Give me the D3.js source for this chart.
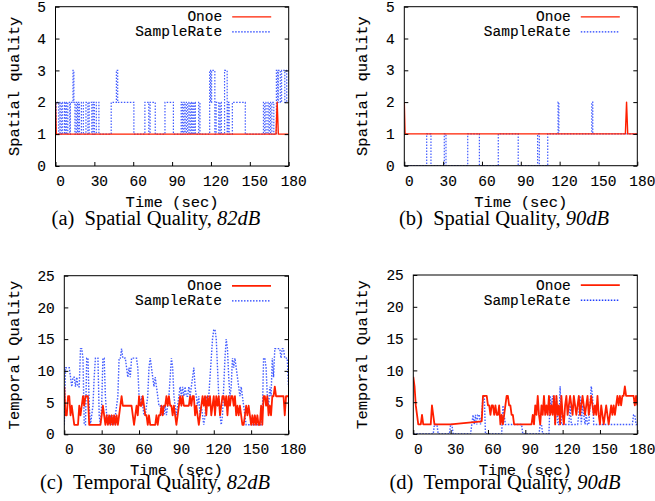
<!DOCTYPE html>
<html>
<head>
<meta charset="utf-8">
<script src="https://cdn.jsdelivr.net/npm/d3@7"></script>
<style>
body { margin: 0; background: #fff; }
svg { display: block; }
</style>
</head>
<body>
<div id="chart"></div>
<script>
// ---- data ----
var xTicks = [0, 30, 60, 90, 120, 150, 180];
var spatialTicks = [0, 1, 2, 3, 4, 5];
var temporalTicks = [0, 5, 10, 15, 20, 25];
var seriesNames = ["Onoe", "SampleRate"];

// (a) spatial, 82dB
var onoeA_t = [0, 0.6, 170.2, 171.1, 172, 180];
var onoeA_v = [2, 1, 1, 2, 1, 1];
// SampleRate as change points (value holds until next time)
var srA_t = [0, 0.5, 2.5, 3.5, 4.5, 5.5, 7, 7.5, 8.5, 9.5, 11, 11.5, 13.5, 14.2, 15, 16, 17, 17.5, 18.5, 20,
             21.5, 23.5, 25, 26, 28, 29, 30, 31.5, 33.5, 43, 47, 48, 60.5, 69, 72, 73, 77, 84.5, 91, 97,
             98, 99, 100, 101, 102, 103, 104, 105, 106, 107, 108, 110.5, 111.5, 119, 119.7, 120.5, 123, 124, 126, 127,
             128, 130.5, 132.5, 133, 134, 136.5, 146.5, 160.5, 161.5, 162.5, 164, 165, 166, 167, 168.5, 170.5, 171.5, 172, 173.5, 174.5,
             177, 178.5, 180];
var srA_v = [1, 2, 1, 2, 1, 2, 1, 2, 1, 2, 1, 2, 3, 2, 1, 2, 1, 2, 1, 2,
             1, 2, 1, 2, 1, 2, 1, 2, 1, 2, 3, 2, 1, 2, 1, 2, 1, 2, 1, 2,
             1, 2, 1, 2, 1, 2, 1, 2, 1, 2, 1, 2, 1, 3, 2, 3, 1, 2, 1, 2,
             1, 3, 1, 2, 1, 2, 1, 2, 1, 2, 1, 2, 1, 2, 1, 3, 2, 3, 2, 3,
             2, 3, 3];

// (b) spatial, 90dB
var onoeB_t = [0, 0.6, 170.8, 171.7, 172.6, 180];
var onoeB_v = [2, 1, 1, 2, 1, 1];
var srB_t = [0, 17.3, 20.6, 30.9, 32.2, 49, 58, 72.6, 88, 103, 104.3, 110.8, 118.8, 119.4, 144.8, 145.6, 180];
var srB_v = [0, 1, 0, 1, 0, 1, 0, 1, 0, 1, 0, 1, 2, 1, 2, 1, 1];

// (c) temporal, 82dB, one sample per second 0..180
var onoeC = [7.5, 3, 3, 6, 6, 3, 4.5, 3, 1.5, 1.5,
             1.5, 1.5, 4.5, 3, 4.5, 6, 4.5, 6, 6, 6,
             1.5, 1.5, 1.5, 1.5, 1.5, 1.5, 1.5, 1.5, 1.5, 1.5,
             3, 4.5, 3, 1.5, 3, 1.5, 3, 1.5, 3, 1.5,
             3, 1.5, 3, 1.5, 3, 4.5, 6, 4.5, 4.5, 4.5,
             4.5, 4.5, 4.5, 4.5, 4.5, 3, 1.5, 3, 4.5, 3,
             6, 4.5, 4.5, 6, 4.5, 3, 3, 1.5, 3, 1.5,
             1.5, 1.5, 1.5, 1.5, 3, 1.5, 3, 3, 4.5, 3,
             4.5, 4.5, 6, 4.5, 6, 4.5, 4.5, 3, 4.5, 3,
             1.5, 3, 4.5, 6, 4.5, 6, 4.5, 4.5, 4.5, 4.5,
             4.5, 6, 4.5, 6, 6, 3, 4.5, 3, 1.5, 3,
             4.5, 6, 4.5, 6, 3, 6, 4.5, 6, 3, 4.5,
             6, 3, 6, 4.5, 6, 3, 4.5, 6, 6, 4.5,
             6, 3, 6, 4.5, 6, 6, 4.5, 6, 3, 4.5,
             3, 4.5, 3, 1.5, 1.5, 3, 4.5, 3, 4.5, 3,
             1.5, 3, 1.5, 3, 1.5, 3, 1.5, 1.5, 4.5, 1.5,
             6, 6, 4.5, 6, 3, 4.5, 3, 6, 6, 7.5,
             6, 6, 6, 6, 6, 6, 6, 3, 6, 6,
             6];
var srC = [1.5, 10.5, 10.5, 10.5, 10.5, 9, 7.5, 9, 9, 7.5,
           9, 7.5, 7.5, 13.5, 13.5, 12, 1.5, 1.5, 12, 12,
           4.5, 1.5, 3, 4.5, 9, 12, 12, 12, 3, 1.5,
           4.5, 12, 12, 6, 3, 3, 1.5, 3, 1.5, 3,
           1.5, 3, 4.5, 6, 12, 12, 13.5, 12, 12, 12,
           10.5, 9, 10.5, 9, 12, 12, 12, 12, 12, 10.5,
           6, 4.5, 6, 4.5, 3, 3, 4.5, 6, 10.5, 12,
           10.5, 9, 7.5, 9, 7.5, 6, 4.5, 4.5, 3, 4.5,
           3, 4.5, 3, 4.5, 6, 9, 12, 10.5, 6, 4.5,
           3, 4.5, 6, 7.5, 6, 7.5, 6, 7.5, 6, 6,
           7.5, 6, 7.5, 9, 10.5, 7.5, 6, 4.5, 6, 3,
           4.5, 3, 1.5, 3, 6, 4.5, 6, 9, 12, 15,
           16.5, 16.5, 15, 10.5, 6, 3, 1.5, 3, 7.5, 12,
           15, 13.5, 9, 6, 7.5, 12, 10.5, 12, 10.5, 9,
           7.5, 6, 7.5, 6, 4.5, 3, 1.5, 1.5, 1.5, 1.5,
           1.5, 1.5, 1.5, 1.5, 1.5, 1.5, 1.5, 1.5, 1.5, 3,
           12, 12, 10.5, 6, 4.5, 7.5, 6, 12, 9, 13.5,
           13.5, 13.5, 13.5, 13.5, 12, 13.5, 13.5, 12, 12, 12,
           7.5];

// (d) temporal, 90dB; Onoe has no samples between 30 and 55 s
var onoeD_t = d3.range(0, 31).concat(d3.range(55, 181));
var onoeD_v = [9, 7.5, 4.5, 3, 1.5, 1.5, 1.5, 3, 1.5, 1.5,
               1.5, 1.5, 1.5, 1.5, 1.5, 4.5, 3, 1.5, 1.5, 1.5,
               1.5, 1.5, 1.5, 1.5, 1.5, 1.5, 1.5, 1.5, 1.5, 1.5,
               1.5,
               2, 6, 6, 6, 6,
               4.5, 4.5, 3, 4.5, 4.5, 3, 4.5, 3, 3, 4.5,
               1.5, 3, 1.5, 3, 4.5, 6, 6, 4.5, 4.5, 3,
               3, 1.5, 1.5, 1.5, 1.5, 1.5, 1.5, 1.5, 1.5, 1.5,
               1.5, 1.5, 1.5, 1.5, 1.5, 1.5, 3, 1.5, 4.5, 3,
               6, 3, 1.5, 4.5, 3, 6, 3, 4.5, 3, 6,
               3, 4.5, 3, 6, 1.5, 6, 3, 4.5, 1.5, 6,
               3, 1.5, 4.5, 6, 3, 4.5, 6, 4.5, 3, 6,
               4.5, 3, 4.5, 6, 3, 4.5, 6, 4.5, 3, 4.5,
               6, 3, 4.5, 6, 4.5, 3, 4.5, 3, 6, 3,
               1.5, 4.5, 3, 1.5, 3, 4.5, 3, 1.5, 3, 4.5,
               3, 4.5, 3, 4.5, 6, 4.5, 6, 4.5, 6, 6,
               7.5, 6, 6, 6, 6, 6, 6, 6, 4.5, 6,
               4.5];
var srD = [0, 0, 0, 0, 0, 0, 0, 0, 0, 0,
           0, 0, 0, 0, 0, 0, 0, 1.5, 1.5, 1.5,
           0, 0, 0, 0, 0, 0, 0, 0, 0, 0,
           1.5, 1.5, 0, 0, 0, 0, 0, 0, 0, 0,
           0, 0, 0, 0, 0, 0, 0, 1.5, 3, 1.5,
           3, 1.5, 3, 3, 1.5, 3, 6, 6, 0, 0,
           0, 0, 0, 0, 0, 0, 0, 0, 0, 0,
           0, 0, 4.5, 3, 1.5, 1.5, 1.5, 1.5, 1.5, 1.5,
           1.5, 1.5, 1.5, 1.5, 1.5, 1.5, 1.5, 1.5, 0, 0,
           0, 0, 0, 0, 0, 0, 0, 0, 0, 0,
           0, 0, 1.5, 1.5, 0, 0, 0, 0, 0, 0,
           6, 4.5, 6, 4.5, 1.5, 6, 1.5, 1.5, 7.5, 1.5,
           1.5, 1.5, 1.5, 1.5, 1.5, 1.5, 4.5, 1.5, 1.5, 1.5,
           1.5, 1.5, 1.5, 3, 6, 1.5, 4.5, 3, 1.5, 3,
           1.5, 1.5, 4.5, 7.5, 6, 1.5, 1.5, 1.5, 1.5, 1.5,
           1.5, 1.5, 1.5, 1.5, 1.5, 1.5, 1.5, 1.5, 1.5, 1.5,
           1.5, 1.5, 1.5, 1.5, 1.5, 1.5, 1.5, 1.5, 1.5, 1.5,
           1.5, 1.5, 1.5, 1.5, 1.5, 1.5, 1.5, 3, 3, 1.5,
           1.5];

var secs = d3.range(0, 181);

var RED = "#ff1f00";
var BLUE = "#1f3dff";
var MONO = "'Liberation Mono', 'Courier New', monospace";
var SERIF = "'Liberation Serif', 'Times New Roman', serif";

var svg = d3.select("#chart")
    .append("svg")
    .attr("width", 655)
    .attr("height", 501)
    .style("background-color", "#fff");

var panels = [
    { id: "a", left: 55.5, right: 288.7, top: 6.7, bottom: 166, ymax: 5, yTicks: spatialTicks,
      ylabel: "Spatial quality", ylabelX: -37, letter: "(a)", db: "82dB", capX: 156, capY: 224.5,
      red: d3.zip(onoeA_t, onoeA_v), blue: d3.zip(srA_t, srA_v), step: true, redW: 1.4, blueW: 1.2 },
    { id: "b", left: 404.3, right: 637.3, top: 6.7, bottom: 165.7, ymax: 5, yTicks: spatialTicks,
      ylabel: "Spatial quality", ylabelX: -37, letter: "(b)", db: "90dB", capX: 504, capY: 224.5,
      red: d3.zip(onoeB_t, onoeB_v), blue: d3.zip(srB_t, srB_v), step: true, redW: 1.4, blueW: 1.2 },
    { id: "c", left: 64.3, right: 288.5, top: 275.7, bottom: 434.3, ymax: 25, yTicks: temporalTicks,
      ylabel: "Temporal Quality", ylabelX: -45, letter: "(c)", db: "82dB", capX: 155, capY: 489,
      red: d3.zip(secs, onoeC), blue: d3.zip(secs, srC), step: false, redW: 1.8, blueW: 1.4 },
    { id: "d", left: 413.3, right: 637.3, top: 275, bottom: 434, ymax: 25, yTicks: temporalTicks,
      ylabel: "Temporal Quality", ylabelX: -46.5, letter: "(d)", db: "90dB", capX: 505, capY: 489,
      red: d3.zip(onoeD_t, onoeD_v), blue: d3.zip(secs, srD), step: false, redW: 1.8, blueW: 1.4 }
];

panels.forEach(drawPanel);

function monoText(sel, size) {
    // a hair of outline so the thin mono face reads like the postscript Courier
    return sel.style("font-family", MONO)
        .style("font-size", size)
        .attr("fill", "#000")
        .attr("stroke", "#000")
        .attr("stroke-width", 0.12);
}

function drawPanel(p) {
    var x = d3.scaleLinear().domain([0, 180]).range([p.left, p.right]);
    var y = d3.scaleLinear().domain([0, p.ymax]).range([p.bottom, p.top]);
    var g = svg.append("g");

    g.append("clipPath")
        .attr("id", "clip-" + p.id)
        .append("rect")
        .attr("x", p.left).attr("y", p.top)
        .attr("width", p.right - p.left).attr("height", p.bottom - p.top);

    var blueLine = d3.line()
        .x(d => x(d[0])).y(d => y(d[1]))
        .curve(p.step ? d3.curveStepAfter : d3.curveLinear);
    var redLine = d3.line()
        .x(d => x(d[0])).y(d => y(d[1]));

    var plot = g.append("g").attr("clip-path", "url(#clip-" + p.id + ")");
    plot.append("path")
        .attr("d", blueLine(p.blue))
        .attr("fill", "none")
        .attr("stroke", BLUE)
        .attr("stroke-width", p.blueW)
        .attr("stroke-dasharray", "1.5,1.5")
        .attr("opacity", 0.85);
    plot.append("path")
        .attr("d", redLine(p.red))
        .attr("fill", "none")
        .attr("stroke", RED)
        .attr("stroke-width", p.redW)
        .attr("stroke-linejoin", "round");

    // axes (gnuplot style: inward ticks, mirrored on the right)
    var xAxis = g.append("g")
        .attr("transform", "translate(0," + p.bottom + ")")
        .call(d3.axisBottom(x).tickValues(xTicks).tickSize(-4).tickPadding(9.8).tickFormat(d3.format("d")));
    xAxis.selectAll("text").attr("dx", 4.5);

    g.append("g")
        .attr("transform", "translate(" + p.left + ",0)")
        .call(d3.axisLeft(y).tickValues(p.yTicks).tickSize(-4).tickPadding(9.5).tickFormat(d3.format("d")));

    g.append("g")
        .attr("transform", "translate(" + p.right + ",0)")
        .call(d3.axisRight(y).tickValues(p.yTicks).tickSize(-4).tickFormat(""));

    g.selectAll(".domain").remove();
    g.selectAll(".tick line").attr("stroke", "#000");
    monoText(g.selectAll(".tick text"), "14.5px");

    g.append("rect")
        .attr("x", p.left).attr("y", p.top)
        .attr("width", p.right - p.left).attr("height", p.bottom - p.top)
        .attr("fill", "none")
        .attr("stroke", "#000")
        .attr("stroke-width", 1);

    // legend
    var legendStyles = [
        { color: RED, w: p.redW, dash: null },
        { color: BLUE, w: p.blueW, dash: "1.5,1.5" }
    ];
    seriesNames.forEach(function (name, i) {
        var by = p.top + 14.7 + i * 15;
        monoText(g.append("text"), "14.5px")
            .attr("x", p.right - 66.5)
            .attr("y", by)
            .attr("text-anchor", "end")
            .text(name);
        g.append("line")
            .attr("x1", p.right - 56.5).attr("x2", p.right - 17.5)
            .attr("y1", by - 4.5).attr("y2", by - 4.5)
            .attr("stroke", legendStyles[i].color)
            .attr("stroke-width", legendStyles[i].w)
            .attr("stroke-dasharray", legendStyles[i].dash);
    });

    // axis titles
    monoText(g.append("text"), "15.5px")
        .attr("x", (p.left + p.right) / 2)
        .attr("y", p.bottom + 41)
        .attr("text-anchor", "middle")
        .text("Time (sec)");

    monoText(g.append("text"), "15.5px")
        .attr("transform", "translate(" + (p.left + p.ylabelX) + "," + ((p.top + p.bottom) / 2) + ") rotate(-90)")
        .attr("text-anchor", "middle")
        .text(p.ylabel);

    // caption
    var cap = g.append("text")
        .attr("x", p.capX)
        .attr("y", p.capY)
        .attr("text-anchor", "middle")
        .style("font-family", SERIF)
        .style("font-size", "20.5px");
    cap.append("tspan").text(p.letter + "\u2002" + (p.id === "a" || p.id === "b" ? "Spatial" : "Temporal") + " Quality, ");
    cap.append("tspan").style("font-style", "italic").text(p.db);
}
</script>
</body>
</html>
